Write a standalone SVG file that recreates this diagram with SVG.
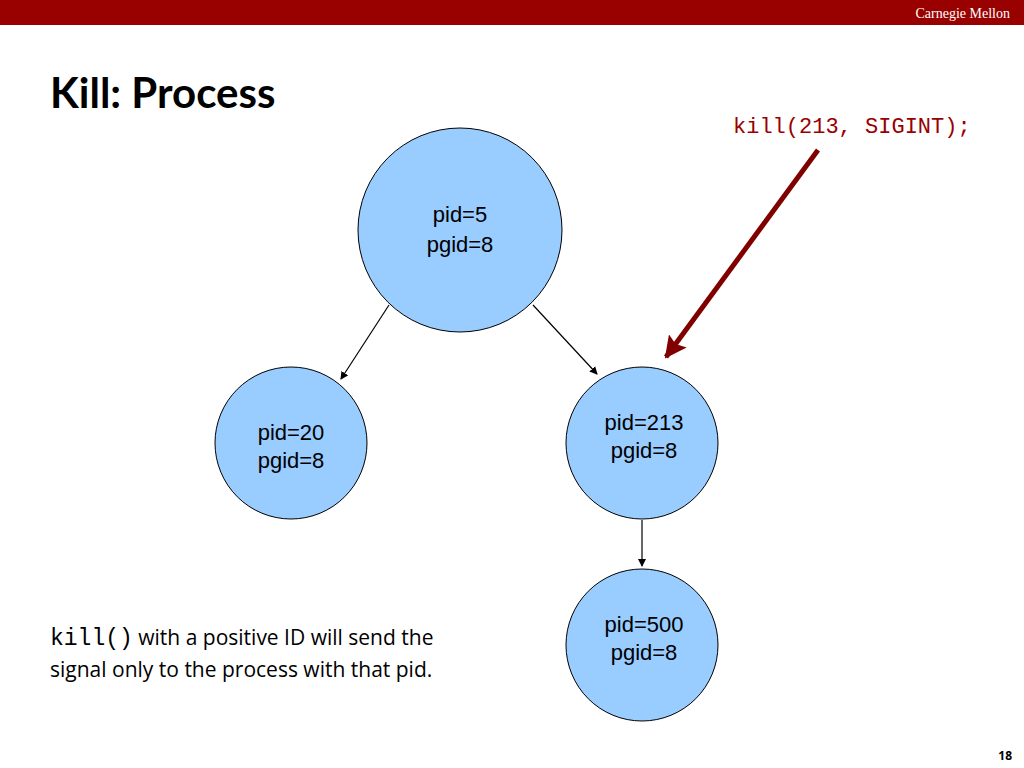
<svg xmlns="http://www.w3.org/2000/svg" width="1024" height="768" viewBox="0 0 1024 768">
<style>
.n{fill:#99CCFF;stroke:#000;stroke-width:1}
.t{font-family:"Liberation Sans",Arial,sans-serif;font-size:22px;fill:#000;text-anchor:middle}
.c{stroke:#000;stroke-width:1.2;fill:none;marker-end:url(#a)}
.b{font-family:"Open Sans","Noto Sans",sans-serif;font-size:21px;fill:#000}
.m{font-family:"Liberation Mono","DejaVu Sans Mono",monospace}
</style>
<defs>
<marker id="a" markerWidth="8" markerHeight="8" refX="7" refY="4" orient="auto" markerUnits="userSpaceOnUse"><path d="M0,0L8,4L0,8z" fill="#000"/></marker>
<marker id="r" markerWidth="22" markerHeight="22" refX="20" refY="11" orient="auto" markerUnits="userSpaceOnUse"><path d="M0,0L22,11L0,22L4,11z" fill="#800000"/></marker>
</defs>
<rect x="0" y="0" width="1024" height="25" fill="#990000"/>
<text x="1010" y="18" text-anchor="end" font-family="Liberation Serif,serif" font-size="14" fill="#fff">Carnegie Mellon</text>
<text x="50" y="108" font-family="Lato,'Open Sans',sans-serif" font-weight="bold" font-size="42" fill="#000">Kill: Process</text>
<text x="733" y="133" class="m" font-size="22" fill="#990000">kill(213, SIGINT);</text>
<g id="n5"><circle class="n" cx="460" cy="230" r="102"/><text class="t" x="460" y="222">pid=5</text><text class="t" x="460" y="252">pgid=8</text></g>
<g id="n20"><circle class="n" cx="291" cy="443" r="76"/><text class="t" x="291" y="440">pid=20</text><text class="t" x="291" y="468">pgid=8</text></g>
<g id="n213"><circle class="n" cx="642" cy="443" r="76"/><text class="t" x="644" y="430">pid=213</text><text class="t" x="644" y="458">pgid=8</text></g>
<g id="n500"><circle class="n" cx="642" cy="645" r="76"/><text class="t" x="644" y="632">pid=500</text><text class="t" x="644" y="660">pgid=8</text></g>
<g id="connectors">
<line class="c" x1="389" y1="305" x2="341" y2="379"/>
<line class="c" x1="533" y1="305" x2="597" y2="374"/>
<line class="c" x1="642" y1="520" x2="642" y2="566"/>
<line x1="818" y1="150" x2="666" y2="357" stroke="#800000" stroke-width="5" marker-end="url(#r)"/>
</g>
<text class="b" x="50" y="645"><tspan class="m" font-size="23">kill()</tspan> with a positive ID will send the</text>
<text class="b" x="50" y="677">signal only to the process with that pid.</text>
<text x="1012" y="760" text-anchor="end" font-family="'Open Sans',sans-serif" font-weight="bold" font-size="12">18</text>
</svg>
